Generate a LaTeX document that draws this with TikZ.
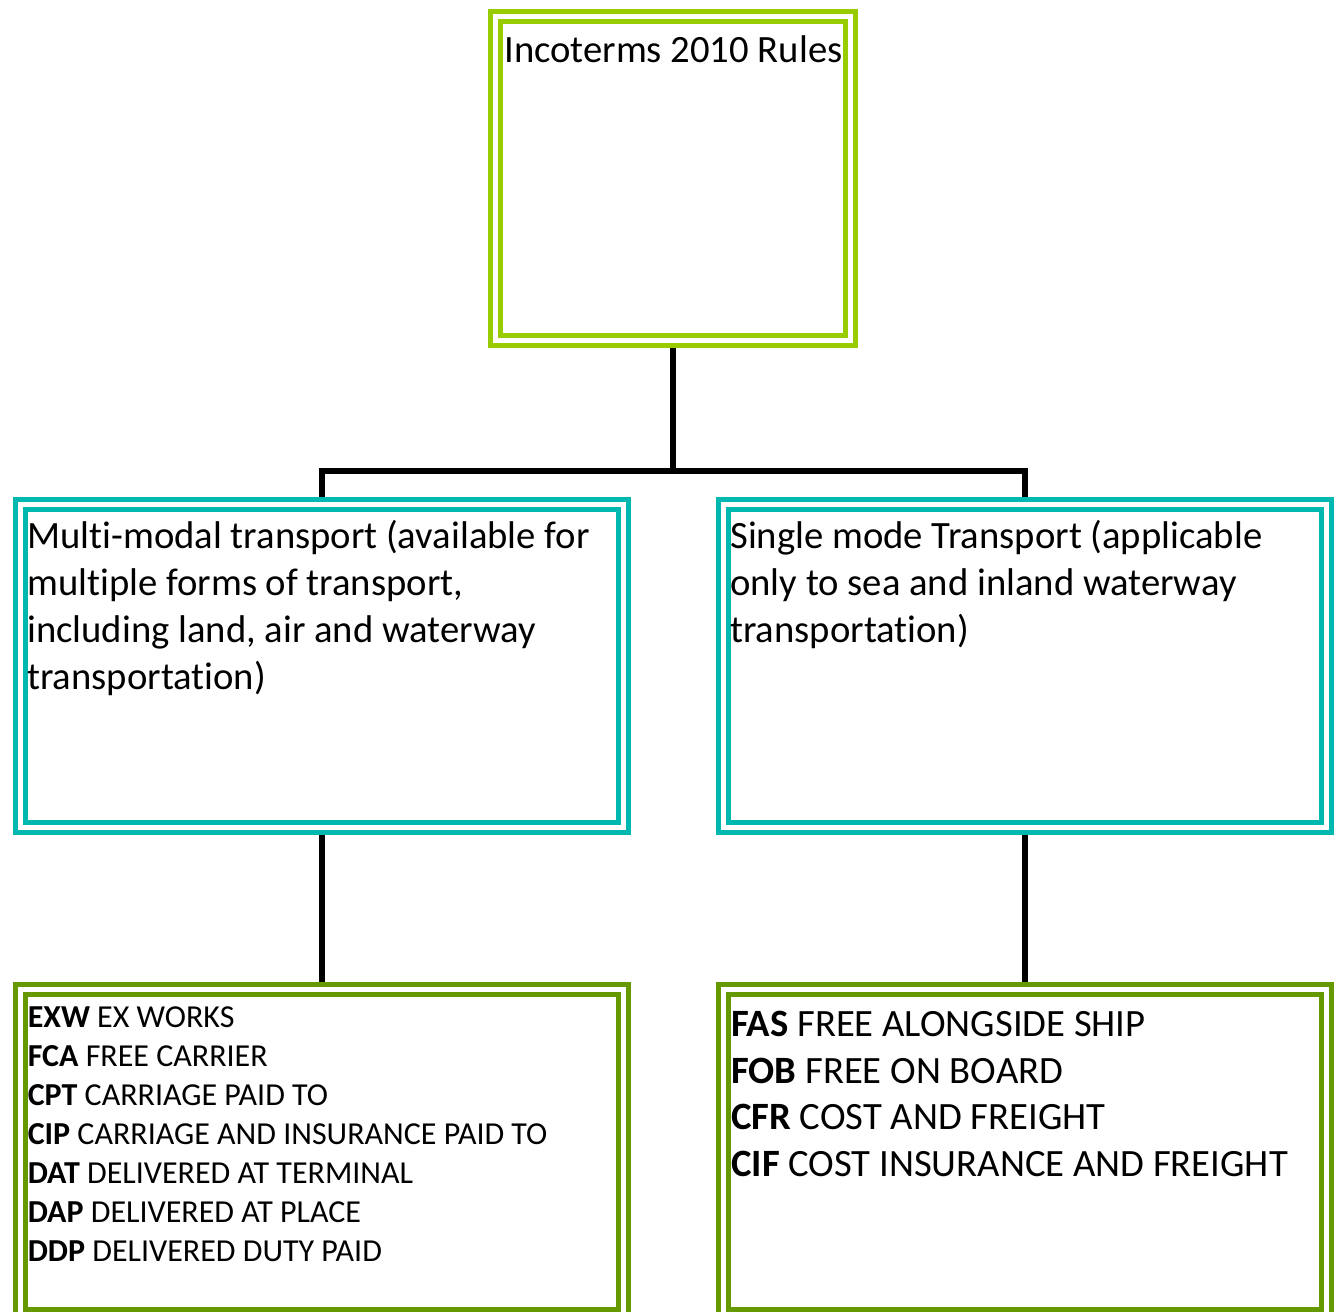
\documentclass[tikz,border=0pt]{standalone}
\usepackage{fontspec}
\setmainfont[Ligatures=CommonOff]{Carlito}
\usepackage{tikz}
\definecolor{limebox}{RGB}{153,204,0}
\definecolor{tealbox}{RGB}{0,184,176}
\definecolor{greenbox}{RGB}{102,153,0}
\tikzset{
  dbox/.style={draw=#1, line width=3.75pt, double=white, double distance=3.75pt,
    outer sep=5.625pt, inner sep=0pt},
  link/.style={draw=black, line width=4.5pt},
  boxtext/.style={anchor=base west, inner sep=0pt, align=left},
  bigfont/.style={font=\fontsize{29pt}{35.25pt}\selectfont},
  listfont/.style={font=\fontsize{24pt}{29.25pt}\selectfont}
}

\begin{document}
\begin{tikzpicture}[x=0.75pt,y=0.75pt,yscale=-1,xscale=1]
  \useasboundingbox (0,0) rectangle (1336,1312);
  % boxes
  \node [dbox=limebox, minimum width=266.25pt, minimum height=243pt] (rules) at (673,179) {};
  \node [dbox=tealbox, minimum width=452.25pt, minimum height=241.875pt] (multi) at (322,665.75) {};
  \node [dbox=tealbox, minimum width=452.25pt, minimum height=241.875pt] (single) at (1025.25,665.75) {};
  \node [dbox=greenbox, minimum width=452.25pt, minimum height=243.75pt] (multilist) at (322,1152) {};
  \node [dbox=greenbox, minimum width=452.25pt, minimum height=243.75pt] (singlelist) at (1025.25,1152) {};
  % texts (base = last line)
  \node [boxtext, bigfont] (rulestext) at (504,63) {Incoterms 2010 Rules};
  \node [boxtext, bigfont] (multitext) at (27,689)
    {Multi-modal transport (available for\\multiple forms of transport,\\including land, air and waterway\\transportation)};
  \node [boxtext, bigfont] (singletext) at (730,642)
    {Single mode Transport (applicable\\only to sea and inland waterway\\transportation)};
  \node [boxtext, listfont] (multilisttext) at (27.5,1261.5)
    {\textbf{EXW} EX WORKS\\\textbf{FCA} FREE CARRIER\\\textbf{CPT} CARRIAGE PAID TO\\
     \textbf{CIP} CARRIAGE AND INSURANCE PAID TO\\\textbf{DAT} DELIVERED AT TERMINAL\\
     \textbf{DAP} DELIVERED AT PLACE\\\textbf{DDP} DELIVERED DUTY PAID};
  \node [boxtext, font=\fontsize{29pt}{35pt}\selectfont] (singlelisttext) at (731,1176.5)
    {\textbf{FAS} FREE ALONGSIDE SHIP\\\textbf{FOB} FREE ON BOARD\\
     \textbf{CFR} COST AND FREIGHT\\\textbf{CIF} COST INSURANCE AND FREIGHT};
  % connectors
  \coordinate (bus) at (673,471);
  \draw [link] (rules.south) -- (bus);
  \draw [link] (multi.north) |- (bus) -| (single.north);
  \draw [link] (multi.south) -- (multilist.north);
  \draw [link] (single.south) -- (singlelist.north);
\end{tikzpicture}
\end{document}
